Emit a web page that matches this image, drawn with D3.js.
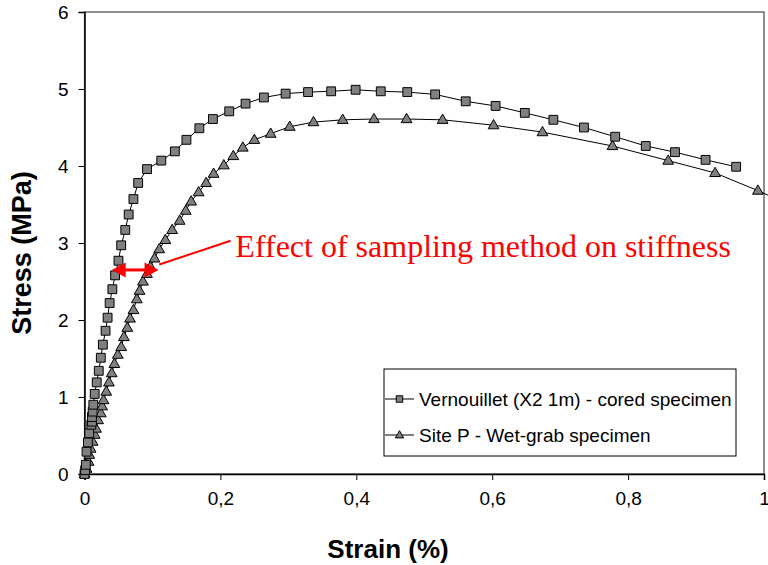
<!DOCTYPE html>
<html><head><meta charset="utf-8">
<script src="https://cdn.jsdelivr.net/npm/d3@7"></script>
<style>body{margin:0;background:#fff}svg{display:block}</style>
</head><body>
<svg id="c" width="768" height="565"></svg>
<script>
// ---- data ----
const coredX = [0,0.001,0.002,0.003,0.005,0.007,0.010,0.011,0.011,0.012,0.013,0.015,0.018,0.021,0.024,0.027,0.031,0.034,0.037,0.041,0.045,0.050,0.054,0.060,0.065,0.072,0.079,0.092,0.113,0.133,0.150,0.169,0.189,0.213,0.237,0.264,0.296,0.329,0.363,0.399,0.436,0.475,0.516,0.561,0.605,0.648,0.690,0.735,0.781,0.826,0.869,0.914,0.959];
const coredY = [0,0.05,0.12,0.29,0.41,0.53,0.64,0.68,0.74,0.81,0.90,1.04,1.19,1.34,1.51,1.68,1.86,2.03,2.22,2.40,2.58,2.77,2.97,3.17,3.37,3.57,3.78,3.96,4.07,4.19,4.34,4.49,4.61,4.71,4.81,4.89,4.94,4.96,4.97,4.99,4.97,4.96,4.93,4.84,4.78,4.69,4.60,4.50,4.38,4.26,4.18,4.08,3.99];
const grabX = [0,0.003,0.006,0.007,0.009,0.012,0.015,0.017,0.020,0.024,0.026,0.028,0.032,0.036,0.040,0.044,0.049,0.054,0.058,0.063,0.067,0.072,0.077,0.081,0.086,0.092,0.097,0.103,0.110,0.119,0.129,0.140,0.149,0.157,0.168,0.179,0.190,0.205,0.219,0.233,0.250,0.274,0.302,0.337,0.380,0.426,0.474,0.527,0.602,0.674,0.777,0.859,0.928,0.991,1.05];
const grabY = [0,0.07,0.16,0.25,0.33,0.42,0.51,0.59,0.70,0.79,0.88,0.96,1.07,1.19,1.31,1.43,1.55,1.65,1.78,1.90,2.02,2.13,2.27,2.38,2.50,2.60,2.69,2.80,2.92,3.04,3.17,3.29,3.42,3.54,3.66,3.78,3.90,4.01,4.13,4.24,4.34,4.42,4.51,4.57,4.60,4.61,4.61,4.60,4.53,4.44,4.26,4.07,3.91,3.68,3.45];
const seriesNames = ["Vernouillet (X2 1m) - cored specimen", "Site P - Wet-grab specimen"];
const xTicks = [0,0.2,0.4,0.6,0.8,1];
const yTicks = [0,1,2,3,4,5,6];
const xTitle = "Strain (%)";
const yTitle = "Stress (MPa)";
const noteText = "Effect of sampling method on stiffness";
const arrowX = [0.04, 0.109], arrowY = 2.65;
const pointerFrom = [0.110, 2.72], pointerTo = [0.215, 3.03];
const notePos = [0.222, 2.82];

// ---- layout ----
const svg = d3.select("#c");
const L = 84.5, R = 764, T = 12, B = 474;
const x = d3.scaleLinear().domain([0,1]).range([L,R]);
const y = d3.scaleLinear().domain([0,6]).range([B,T]);
const fmt = d => d === 0 ? "0" : d === 1 ? "1" : String(d).replace(".", ",");

// frame
svg.append("rect").attr("x",L).attr("y",T).attr("width",R-L).attr("height",B-T)
  .attr("fill","none").attr("stroke","#444").attr("stroke-width",1.2);

// axes
const xa = svg.append("g").attr("transform",`translate(0,${B})`)
  .call(d3.axisBottom(x).tickValues(xTicks).tickFormat(fmt).tickSize(6).tickPadding(12));
const ya = svg.append("g").attr("transform",`translate(${L},0)`)
  .call(d3.axisLeft(y).tickValues(yTicks).tickFormat(fmt).tickSize(6).tickPadding(10));
[xa,ya].forEach(g=>{
  g.select(".domain").attr("stroke","#000").attr("stroke-width",1.5);
  g.selectAll(".tick line").attr("stroke","#000");
  g.selectAll("text").attr("font-family","Arial, 'Liberation Sans', sans-serif").attr("font-size",19).attr("fill","#000");
});
ya.selectAll("text").attr("dy","0.35em");

// titles
svg.append("text").attr("x",388).attr("y",558).attr("text-anchor","middle")
  .attr("font-family","Arial, 'Liberation Sans', sans-serif").attr("font-weight","bold").attr("font-size",26)
  .text(xTitle);
svg.append("text").attr("transform","translate(31,253) rotate(-90)").attr("text-anchor","middle")
  .attr("font-family","Arial, 'Liberation Sans', sans-serif").attr("font-weight","bold").attr("font-size",27)
  .text(yTitle);

// series
const line = d3.line().x(d=>x(d[0])).y(d=>y(d[1]));
const coredPts = coredX.map((v,i)=>[v,coredY[i]]);
const grabPts = grabX.map((v,i)=>[v,grabY[i]]);
const sq = d3.symbol().type(d3.symbolSquare).size(78);
const tri = d3.symbol().type(d3.symbolTriangle).size(50);

svg.append("path").datum(grabPts).attr("d",line).attr("fill","none").attr("stroke","#000").attr("stroke-width",1);
svg.append("path").datum(coredPts).attr("d",line).attr("fill","none").attr("stroke","#000").attr("stroke-width",1);
svg.append("g").selectAll("path").data(grabPts).join("path")
  .attr("d",tri).attr("transform",d=>`translate(${x(d[0])},${y(d[1])+0.5})`)
  .attr("fill","#808080").attr("stroke","#000").attr("stroke-width",1);
svg.append("g").selectAll("path").data(coredPts).join("path")
  .attr("d",sq).attr("transform",d=>`translate(${x(d[0])},${y(d[1])})`)
  .attr("fill","#808080").attr("stroke","#000").attr("stroke-width",1);

// annotation
const red = "#ff0000";
const ax0 = x(arrowX[0]), ax1 = x(arrowX[1]), ay = y(arrowY);
const hl = 14, hw = 7.5;
svg.append("line").attr("x1",ax0+hl-2).attr("x2",ax1-hl+2).attr("y1",ay).attr("y2",ay)
  .attr("stroke",red).attr("stroke-width",3);
svg.append("path").attr("d",`M${ax0},${ay}L${ax0+hl},${ay-hw}L${ax0+hl},${ay+hw}Z`).attr("fill",red);
svg.append("path").attr("d",`M${ax1},${ay}L${ax1-hl},${ay-hw}L${ax1-hl},${ay+hw}Z`).attr("fill",red);
svg.append("line").attr("x1",x(pointerFrom[0])).attr("y1",y(pointerFrom[1]))
  .attr("x2",x(pointerTo[0])).attr("y2",y(pointerTo[1])).attr("stroke",red).attr("stroke-width",2);
svg.append("text").attr("x",x(notePos[0])).attr("y",y(notePos[1]))
  .attr("font-family","'Liberation Serif', 'Times New Roman', serif").attr("font-size",32).attr("fill",red)
  .text(noteText);

// legend
const lg = svg.append("g");
lg.append("rect").attr("x",384).attr("y",369).attr("width",352).attr("height",87)
  .attr("fill","#fff").attr("stroke","#000").attr("stroke-width",1);
const legSyms = [d3.symbol().type(d3.symbolSquare).size(42), d3.symbol().type(d3.symbolTriangle).size(30)];
seriesNames.forEach((name,i)=>{
  const cy = 399 + i*36;
  lg.append("line").attr("x1",385).attr("x2",414).attr("y1",cy).attr("y2",cy).attr("stroke","#000");
  lg.append("path").attr("d",legSyms[i]).attr("transform",`translate(399.5,${cy + (i?0.5:0)})`)
    .attr("fill","#808080").attr("stroke","#000");
  lg.append("text").attr("x",419).attr("y",cy).attr("dy","0.35em")
    .attr("font-family","Arial, 'Liberation Sans', sans-serif").attr("font-size",19).text(name);
});
</script>
</body></html>
